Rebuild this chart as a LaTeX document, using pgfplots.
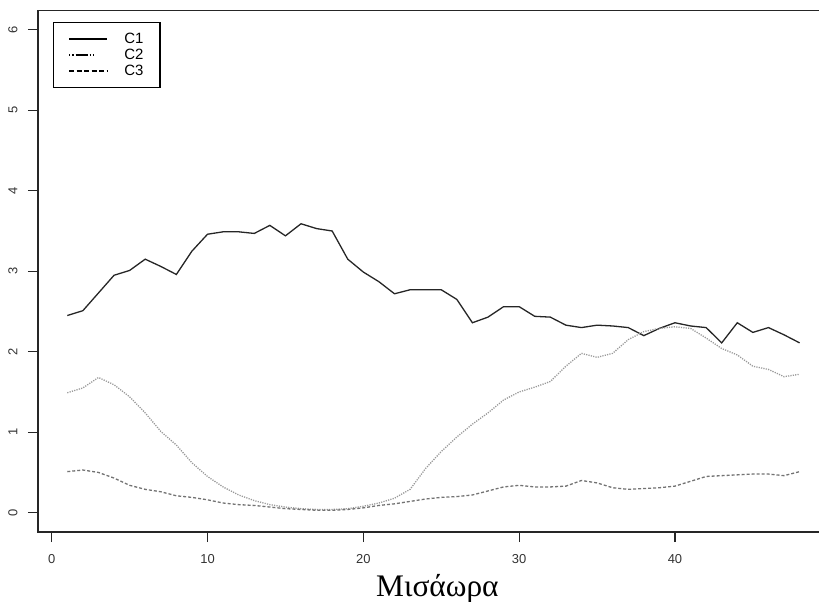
\documentclass[border=0pt]{standalone}
\usepackage{fontspec}
\setmainfont{Liberation Serif}
\setsansfont{Liberation Sans}
\usepackage{pgfplots}
\usepackage{pgfplotstable}
\pgfplotsset{compat=1.18}

\pgfplotstableread{
x y
1 2.45
2 2.51
3 2.73
4 2.95
5 3.01
6 3.15
7 3.06
8 2.96
9 3.25
10 3.46
11 3.49
12 3.49
13 3.47
14 3.57
15 3.44
16 3.59
17 3.53
18 3.50
19 3.15
20 2.99
21 2.87
22 2.72
23 2.77
24 2.77
25 2.77
26 2.65
27 2.36
28 2.43
29 2.56
30 2.56
31 2.44
32 2.43
33 2.33
34 2.30
35 2.33
36 2.32
37 2.30
38 2.20
39 2.29
40 2.36
41 2.32
42 2.30
43 2.11
44 2.36
45 2.24
46 2.30
47 2.21
48 2.11
}\cone

\pgfplotstableread{
x y
1 1.49
2 1.55
3 1.68
4 1.59
5 1.44
6 1.24
7 1.01
8 0.84
9 0.62
10 0.45
11 0.32
12 0.22
13 0.15
14 0.10
15 0.07
16 0.05
17 0.04
18 0.04
19 0.05
20 0.08
21 0.12
22 0.18
23 0.29
24 0.55
25 0.76
26 0.94
27 1.10
28 1.24
29 1.40
30 1.50
31 1.56
32 1.63
33 1.82
34 1.98
35 1.93
36 1.98
37 2.15
38 2.25
39 2.29
40 2.31
41 2.29
42 2.17
43 2.04
44 1.96
45 1.82
46 1.78
47 1.69
48 1.72
}\ctwo

\pgfplotstableread{
x y
1 0.51
2 0.53
3 0.50
4 0.43
5 0.34
6 0.29
7 0.26
8 0.21
9 0.19
10 0.16
11 0.12
12 0.10
13 0.09
14 0.07
15 0.05
16 0.04
17 0.03
18 0.03
19 0.04
20 0.06
21 0.09
22 0.11
23 0.14
24 0.17
25 0.19
26 0.20
27 0.22
28 0.27
29 0.32
30 0.34
31 0.32
32 0.32
33 0.33
34 0.40
35 0.37
36 0.31
37 0.29
38 0.30
39 0.31
40 0.33
41 0.39
42 0.45
43 0.46
44 0.47
45 0.48
46 0.48
47 0.46
48 0.51
}\cthree

\begin{document}
\begin{tikzpicture}
\begin{axis}[
  at={(38bp,70bp)}, anchor=south west,
  scale only axis, width=790.9bp, height=521.5bp,
  xmin=-0.88, xmax=49.88, ymin=-0.24, ymax=6.24,
  axis line style={line width=1.5bp, black!85},
  xtick={0,10,20,30,40}, ytick={0,1,2,3,4,5,6},
  tick pos=left, tick align=outside, major tick length=10bp,
  tick style={line width=1.2bp, black!85},
  /pgf/number format/assume math mode=true,
  ticklabel style={font=\sffamily\fontsize{13}{14}\selectfont, text=black!80},
  yticklabel style={rotate=90, anchor=south, yshift=7bp},
  xticklabel style={anchor=north, yshift=-9bp},
  xlabel={Μισάωρα},
  xlabel style={font=\fontsize{31.5}{32}\selectfont, at={(axis description cs:0.5,0)}, anchor=base, yshift=-64.7bp, xshift=4bp},
  legend style={at={(axis description cs:0.019,0.978)}, anchor=north west,
    draw=black, line width=1.2bp, font=\sffamily\fontsize{15}{15}\selectfont,
    inner xsep=15bp, inner ysep=8.5bp,
    nodes={inner sep=1.5bp, text height=10.5bp, text depth=2.5bp},
    /tikz/every odd column/.append style={column sep=15bp}},
  legend cell align=left,
  legend image code/.code={\draw[#1] (0bp,0bp) -- (38bp,0bp);},
]
\addplot[black!85, line width=1.3bp, forget plot] table[x=x,y=y] {\cone};
\addplot[black!40, line width=1.3bp, dash pattern=on 1.2bp off 1.2bp, forget plot] table[x=x,y=y] {\ctwo};
\addplot[black!55, line width=1.3bp, dash pattern=on 3bp off 2bp, forget plot] table[x=x,y=y] {\cthree};
\addlegendimage{black, line width=1.2bp}
\addlegendentry{C1}
\addlegendimage{black, line width=1.2bp, dash pattern=on 1.2bp off 2bp on 1.2bp off 2bp on 12bp off 2bp on 1.2bp off 2bp on 1.2bp off 20bp}
\addlegendentry{C2}
\addlegendimage{black, line width=1.2bp, dash pattern=on 5bp off 2.5bp}
\addlegendentry{C3}
\end{axis}
\pgfresetboundingbox
\path (0,0) rectangle (819bp,602bp);
\end{tikzpicture}
\end{document}
